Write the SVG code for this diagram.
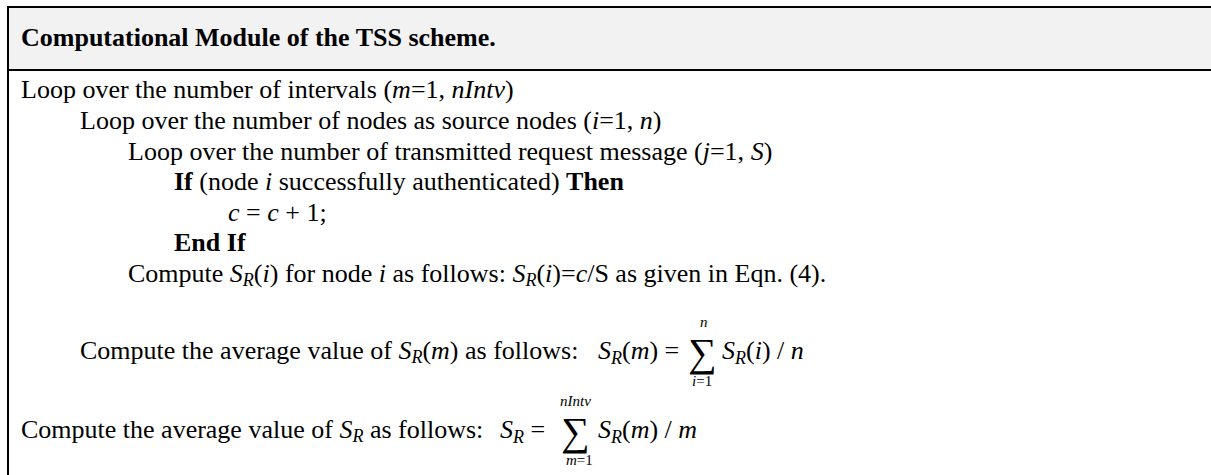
<svg xmlns="http://www.w3.org/2000/svg" width="1211" height="475" viewBox="0 0 1211 475">
<style>
text{font-family:"Liberation Serif","Times New Roman",serif;font-size:26px;fill:#000}
.b{font-weight:bold}
.i{font-style:italic}
.sm{font-size:18px}
.xs{font-size:15px}
.sig{font-size:40px}
</style>
<g id="frame">
<rect x="8" y="7" width="1210" height="63" fill="#f2f2f2"/>
<line x1="7" y1="7" x2="1211" y2="7" stroke="#000" stroke-width="2"/>
<line x1="8" y1="70" x2="1211" y2="70" stroke="#000" stroke-width="2"/>
<line x1="8" y1="6" x2="8" y2="475" stroke="#000" stroke-width="2"/>
</g>
<g id="title"><text x="21" y="46" class="b">Computational Module of the TSS scheme.</text></g>
<g id="body">
<text x="21" y="98">Loop over the number of intervals (<tspan class="i">m</tspan>=1, <tspan class="i">nIntv</tspan>)</text>
<text x="80" y="129">Loop over the number of nodes as source nodes (<tspan class="i">i</tspan>=1, <tspan class="i">n</tspan>)</text>
<text x="128" y="160">Loop over the number of transmitted request message (<tspan class="i">j</tspan>=1, <tspan class="i">S</tspan>)</text>
<text x="174" y="190"><tspan class="b">If</tspan> (node <tspan class="i">i</tspan> successfully authenticated) <tspan class="b">Then</tspan></text>
<text x="228" y="221"><tspan class="i">c</tspan> = <tspan class="i">c</tspan> + 1;</text>
<text x="174" y="251" class="b">End If</text>
<text x="128" y="282">Compute <tspan class="i">S</tspan><tspan class="i sm" dy="4">R</tspan><tspan dy="-4">(</tspan><tspan class="i">i</tspan>) for node <tspan class="i">i</tspan> as follows: <tspan class="i">S</tspan><tspan class="i sm" dy="4">R</tspan><tspan dy="-4">(</tspan><tspan class="i">i</tspan>)=<tspan class="i">c</tspan>/S as given in Eqn. (4).</text>
<text x="80" y="359">Compute the average value of <tspan class="i">S</tspan><tspan class="i sm" dy="4">R</tspan><tspan dy="-4">(</tspan><tspan class="i">m</tspan>) as follows:</text>
<text x="21" y="438">Compute the average value of <tspan class="i">S</tspan><tspan class="i sm" dy="4">R</tspan><tspan dy="-4"> as follows:</tspan></text>
</g>
<g id="eq1">
<text x="598" y="359"><tspan class="i">S</tspan><tspan class="i sm" dy="5">R</tspan><tspan dy="-5">(</tspan><tspan class="i">m</tspan>) = </text>
<text x="688" y="366" class="sig">∑</text>
<text x="700" y="327" class="i xs">n</text>
<text x="692" y="386" class="xs"><tspan class="i">i</tspan>=1</text>
<text x="722" y="359"><tspan class="i">S</tspan><tspan class="i sm" dy="5">R</tspan><tspan dy="-5">(</tspan><tspan class="i">i</tspan>) / <tspan class="i">n</tspan></text>
</g>
<g id="eq2">
<text x="500" y="438"><tspan class="i">S</tspan><tspan class="i sm" dy="5">R</tspan><tspan dy="-5"> = </tspan></text>
<text x="561" y="445" class="sig">∑</text>
<text x="560" y="406" class="i xs">nIntv</text>
<text x="566" y="465" class="xs"><tspan class="i">m</tspan>=1</text>
<text x="598" y="438"><tspan class="i">S</tspan><tspan class="i sm" dy="5">R</tspan><tspan dy="-5">(</tspan><tspan class="i">m</tspan>) / <tspan class="i">m</tspan></text>
</g>
</svg>
